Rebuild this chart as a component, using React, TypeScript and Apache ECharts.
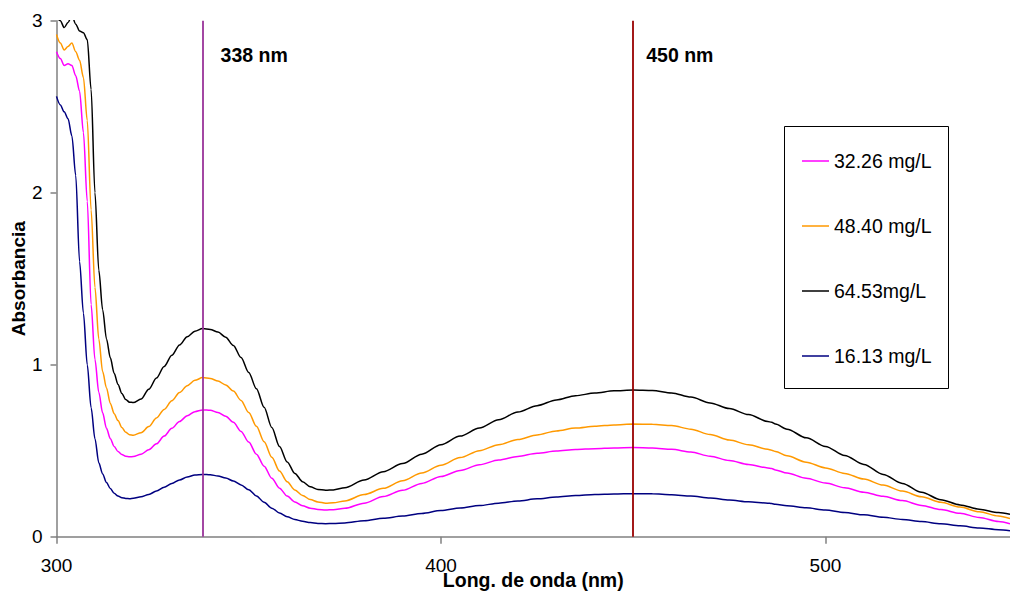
import React, { useEffect, useRef } from "react";
import * as echarts from "echarts";

// Wavelength (nm)
const wavelengths = [
  300, 301, 302, 303, 304, 305, 306, 307, 308, 309, 310, 311, 312, 313, 314, 315, 316, 317, 318, 319, 320,
  322, 324, 326, 328, 330, 332, 334, 336, 338, 340, 342, 344, 346, 348, 350, 352, 354, 356, 358, 360,
  362, 364, 366, 368, 370, 372, 375, 380, 385, 390, 395, 400, 405, 410, 415, 420, 425, 430, 435, 440,
  445, 450, 455, 460, 465, 470, 475, 480, 485, 486, 487, 490, 495, 500, 505, 510, 515, 520, 525, 530,
  535, 540, 545, 548,
];

// Absorbance, 32.26 mg/L
const abs3226 = [
  2.82, 2.78, 2.74, 2.75, 2.74, 2.68, 2.59, 2.35, 1.95, 1.35, 1.03, 0.84, 0.72, 0.63, 0.57, 0.525, 0.495, 0.478, 0.468, 0.465, 0.466,
  0.48, 0.505, 0.54, 0.585, 0.63, 0.67, 0.703, 0.727, 0.737, 0.735, 0.722, 0.7, 0.665, 0.612, 0.55, 0.48, 0.41, 0.34, 0.282, 0.236,
  0.202, 0.18, 0.166, 0.158, 0.155, 0.157, 0.165, 0.195, 0.233, 0.27, 0.31, 0.35, 0.385, 0.418, 0.446, 0.467, 0.485, 0.498, 0.507, 0.512,
  0.516, 0.518, 0.516, 0.508, 0.492, 0.468, 0.443, 0.42, 0.4, 0.396, 0.388, 0.37, 0.34, 0.312, 0.285, 0.259, 0.235, 0.21, 0.182, 0.158,
  0.136, 0.112, 0.089, 0.075,
];

// Absorbance, 48.40 mg/L
const abs4840 = [
  2.92, 2.87, 2.83, 2.85, 2.87, 2.82, 2.77, 2.67, 2.42, 1.9, 1.45, 1.15, 0.96, 0.865, 0.775, 0.715, 0.675, 0.635, 0.607, 0.593, 0.59,
  0.605, 0.64, 0.69, 0.74, 0.79, 0.838, 0.878, 0.909, 0.925, 0.92, 0.905, 0.882, 0.847, 0.792, 0.722, 0.642, 0.552, 0.462, 0.382, 0.32,
  0.272, 0.24, 0.216, 0.202, 0.195, 0.197, 0.208, 0.245, 0.281, 0.325, 0.37, 0.415, 0.46, 0.5, 0.535, 0.565, 0.592, 0.615, 0.632, 0.642,
  0.65, 0.655, 0.654, 0.646, 0.625, 0.594, 0.562, 0.535, 0.508, 0.503, 0.495, 0.47, 0.433, 0.4, 0.368, 0.335, 0.3, 0.265, 0.232, 0.2,
  0.172, 0.145, 0.12, 0.105,
];

// Absorbance, 64.53 mg/L
const abs6453 = [
  3.02, 3.0, 2.96, 2.99, 3.03, 2.98, 2.94, 2.93, 2.89, 2.6, 2.0, 1.55, 1.32, 1.15, 1.04, 0.95, 0.885, 0.833, 0.797, 0.782, 0.78,
  0.8, 0.857, 0.922, 0.99, 1.055, 1.115, 1.163, 1.195, 1.21, 1.205, 1.19, 1.16, 1.112, 1.042, 0.955, 0.86, 0.752, 0.635, 0.525, 0.435,
  0.368, 0.32, 0.29, 0.275, 0.27, 0.272, 0.285, 0.33, 0.378, 0.425, 0.48, 0.535, 0.585, 0.632, 0.68, 0.725, 0.762, 0.795, 0.82, 0.835,
  0.848, 0.853, 0.85, 0.836, 0.812, 0.778, 0.745, 0.71, 0.67, 0.665, 0.655, 0.625, 0.575, 0.525, 0.472, 0.42, 0.362, 0.31, 0.258, 0.215,
  0.185, 0.16, 0.14, 0.13,
];

// Absorbance, 16.13 mg/L
const abs1613 = [
  2.56, 2.51, 2.47, 2.43, 2.33, 2.1, 1.6, 1.3, 1.0, 0.75, 0.57, 0.43, 0.365, 0.315, 0.28, 0.252, 0.236, 0.227, 0.222, 0.221, 0.223,
  0.232, 0.246, 0.265, 0.288, 0.31, 0.33, 0.347, 0.358, 0.362, 0.36, 0.353, 0.341, 0.324, 0.301, 0.273, 0.237, 0.2, 0.166, 0.138, 0.116,
  0.1, 0.09, 0.082, 0.077, 0.076, 0.077, 0.08, 0.093, 0.107, 0.12, 0.135, 0.152, 0.167, 0.181, 0.195, 0.208, 0.22, 0.231, 0.239, 0.245,
  0.248, 0.25, 0.249, 0.244, 0.236, 0.225, 0.213, 0.203, 0.195, 0.193, 0.188, 0.18, 0.168, 0.155, 0.141, 0.127, 0.113, 0.1, 0.088, 0.075,
  0.063, 0.051, 0.041, 0.035,
];

const seriesNames = ["32.26 mg/L", "48.40 mg/L", "64.53mg/L", "16.13 mg/L"];
const seriesValues = [abs3226, abs4840, abs6453, abs1613];
const seriesColors = ["#FF00FF", "#FF9900", "#000000", "#000080"];

const markerWavelengths = [338, 450];
const markerLabels = ["338 nm", "450 nm"];
const markerColors = ["#993399", "#990000"];
const markerLabelY = 2.8;
const markerLabelOffsets = [18, 13];

const xTicks = [300, 400, 500];
const xMin = 300;
const xMax = 548;
const yMin = 0;
const yMax = 3;
const yInterval = 1;

const FONT = '"Liberation Sans", Arial, sans-serif';

export default function App() {
  const ref = useRef<HTMLDivElement>(null);

  useEffect(() => {
    if (!ref.current) return;
    const chart = echarts.init(ref.current, undefined, { renderer: "svg" });

    const legendBox = {
      id: "legendBox",
      type: "rect",
      shape: { x: 784.5, y: 126.5, width: 164, height: 262 },
      style: { fill: "#ffffff", stroke: "#000000", lineWidth: 1 },
      z: 1,
      silent: true,
    };

    const series: any[] = seriesNames.map((name, i) => ({
      name,
      type: "line",
      data: wavelengths.map((w, j) => [w, seriesValues[i][j]]),
      symbol: "none",
      smooth: 0.3,
      smoothMonotone: "x",
      lineStyle: { color: seriesColors[i], width: 1.5 },
      itemStyle: { color: seriesColors[i] },
      z: 3,
    }));

    series.push({
      name: "markers",
      type: "line",
      data: [],
      symbol: "none",
      markLine: {
        silent: true,
        symbol: "none",
        label: { show: false },
        data: markerWavelengths.map((w, i) => ({
          xAxis: w,
          lineStyle: { color: markerColors[i], width: 1.8, type: "solid" },
        })),
      },
      z: 4,
    });

    chart.setOption({
      animation: false,
      backgroundColor: "#ffffff",
      textStyle: { fontFamily: FONT },
      grid: { left: 56.5, right: 0, top: 20.7, bottom: 59.3, outerBoundsMode: "none", containLabel: false },
      legend: {
        data: seriesNames,
        orient: "vertical",
        left: 802,
        top: 151,
        padding: 0,
        icon: "rect",
        itemWidth: 27,
        itemHeight: 1.5,
        itemGap: 45,
        selectedMode: false,
        textStyle: { fontFamily: FONT, fontSize: 19.5, color: "#000000", lineHeight: 20 },
        z: 5,
      },
      xAxis: {
        type: "value",
        min: xMin,
        max: xMax,
        interval: 100,
        name: "Long. de onda (nm)",
        nameLocation: "middle",
        nameGap: 33,
        nameMoveOverlap: false,
        nameTextStyle: { fontFamily: FONT, fontSize: 19.5, fontWeight: "bold", color: "#000000" },
        axisLine: { show: true, lineStyle: { color: "#808080", width: 1.5 } },
        axisTick: { show: true, inside: false, length: 7, customValues: xTicks, lineStyle: { color: "#808080", width: 1.5 } },
        axisLabel: { customValues: xTicks, margin: 19, fontFamily: FONT, fontSize: 19, color: "#000000" },
        splitLine: { show: false },
      },
      yAxis: {
        type: "value",
        min: yMin,
        max: yMax,
        interval: yInterval,
        name: "Absorbancia",
        nameLocation: "middle",
        nameGap: 29,
        nameMoveOverlap: false,
        nameTextStyle: { fontFamily: FONT, fontSize: 19, fontWeight: "bold", color: "#000000" },
        axisLine: { show: true, lineStyle: { color: "#808080", width: 1.5 } },
        axisTick: { show: true, inside: false, length: 6, lineStyle: { color: "#808080", width: 1.5 } },
        axisLabel: { margin: 14, fontFamily: FONT, fontSize: 19, color: "#000000" },
        splitLine: { show: false },
      },
      graphic: [legendBox],
      series,
    });

    const texts = markerWavelengths.map((w, i) => {
      const px = chart.convertToPixel({ xAxisIndex: 0 }, w) as number;
      const py = chart.convertToPixel({ yAxisIndex: 0 }, markerLabelY) as number;
      return {
        id: "marker" + i,
        type: "text",
        x: px + markerLabelOffsets[i],
        y: py,
        style: {
          text: markerLabels[i],
          fontFamily: FONT,
          fontSize: 19.5,
          fontWeight: "bold",
          fill: "#000000",
          verticalAlign: "middle",
        },
        z: 6,
      };
    });
    chart.setOption({ graphic: [legendBox, ...texts] });

    return () => chart.dispose();
  }, []);

  return (
    <div
      ref={ref}
      style={{ position: "absolute", left: 0, top: 0, width: 1010, height: 596 }}
    />
  );
}
